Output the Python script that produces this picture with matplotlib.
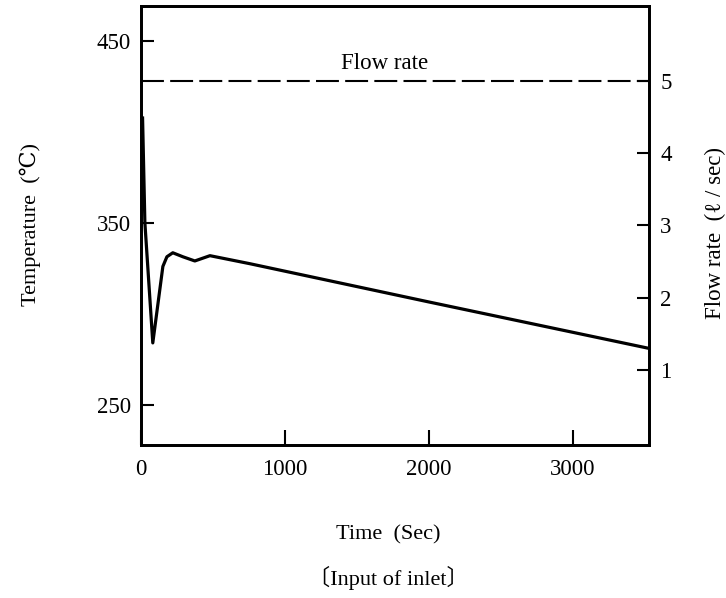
import matplotlib
matplotlib.use("Agg")
import matplotlib.pyplot as plt

plt.rcParams['font.family'] = ['Liberation Serif', 'DejaVu Serif', 'Noto Sans CJK JP']

# inlet temperature
time_s = [12, 28, 83, 153, 181, 222, 292, 375, 480, 757, 2000, 3530]
temp_c = [407.5, 350, 284, 326, 331.3, 333.5, 331.3, 329, 331.9, 327.5, 306.5, 281]

# flow rate (constant)
flow_time = [0, 3530]
flow_rate = [5, 5]

x_ticks = [0, 1000, 2000, 3000]
temp_ticks = [250, 350, 450]
flow_ticks = [1, 2, 3, 4, 5]

fig = plt.figure(figsize=(7.26, 5.98), dpi=100)
ax = fig.add_axes([0.194, 0.256, 0.700, 0.734])
ax2 = ax.twinx()

ax.plot(time_s, temp_c, color='black', lw=2.3, solid_joinstyle='round')
ax2.plot(flow_time, flow_rate, color='black', lw=1.5, linestyle=(0, (11, 3)))

ax.set_xlim(0, 3530)
ax.set_ylim(228, 469)
ax2.set_ylim(-0.04, 6.04)

ax.set_xticks(x_ticks)
ax.set_yticks(temp_ticks)
ax2.set_yticks(flow_ticks)

ax.tick_params(axis='both', direction='in', length=9, width=1.5, labelsize=16.5, pad=7)
ax.tick_params(axis='x', length=11, pad=10)
ax2.tick_params(axis='y', direction='in', length=9, width=1.5, labelsize=16.5, pad=8)

for a in (ax, ax2):
    for s in a.spines.values():
        s.set_linewidth(2)

ax.text(1694, 437.5, 'Flow rate', ha='center', va='center', fontsize=16.5)

fig.text(0.042, 0.625, 'Temperature  (℃)', rotation=90, ha='center', va='center', fontsize=16)
fig.text(0.985, 0.610, 'Flow rate  (ℓ / sec)', rotation=90, ha='center', va='center', fontsize=16.5)
fig.text(0.535, 0.106, 'Time  (Sec)', ha='center', va='center', fontsize=16)
fig.text(0.535, 0.034, '〔Input of inlet〕', ha='center', va='center', fontsize=16)

fig.savefig('out.png', dpi=100)
